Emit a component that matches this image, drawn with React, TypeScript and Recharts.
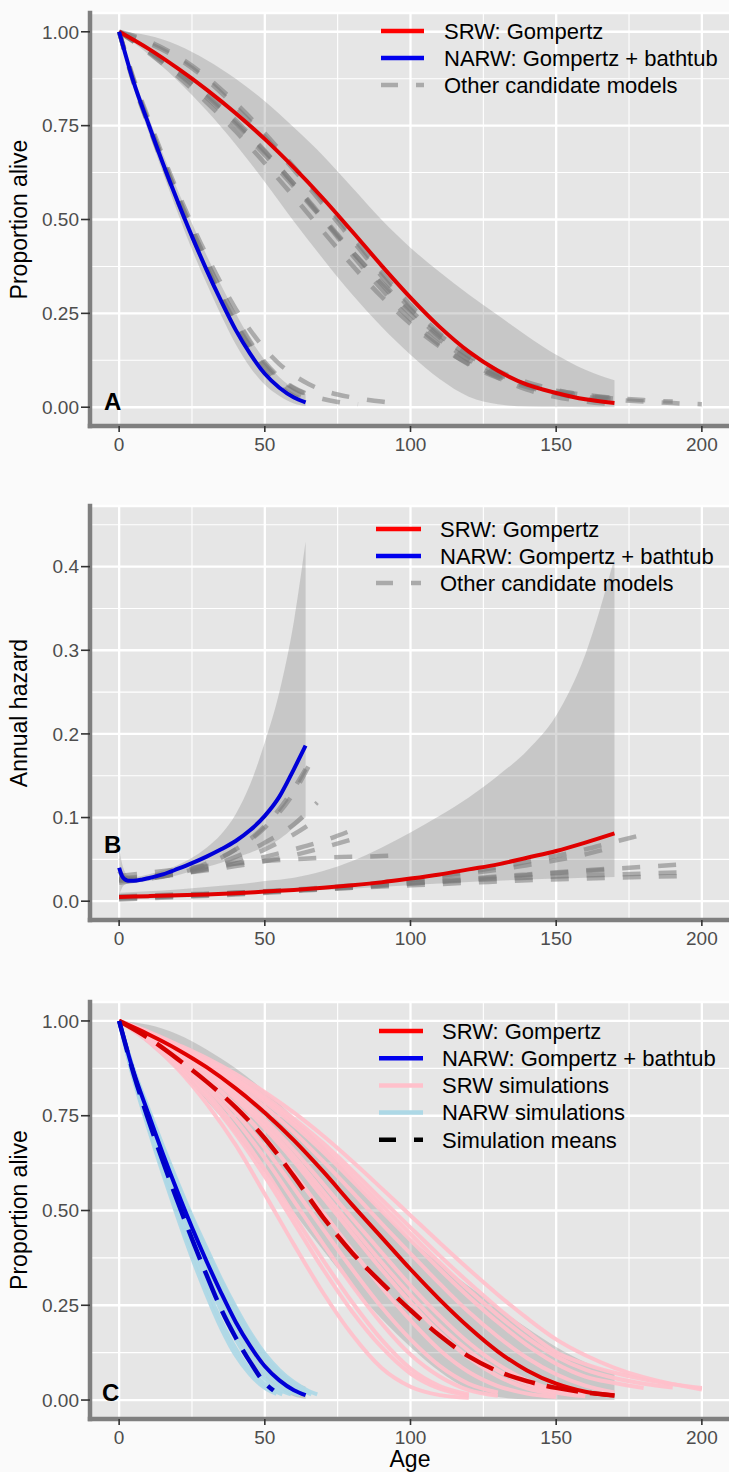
import React from 'react';
import { ComposedChart, Line, Area, XAxis, YAxis, CartesianGrid } from 'recharts';

type Pt = [number, number];

const FONT = '"Liberation Sans", Arial, Helvetica, sans-serif';

// ---------- shared axis values ----------
const X_TICKS = [0, 50, 100, 150, 200];
const X_MINOR = [25, 75, 125, 175];
const SURV_TICKS = [0, 0.25, 0.5, 0.75, 1];
const SURV_MINOR = [0.125, 0.375, 0.625, 0.875];
const HAZ_TICKS = [0, 0.1, 0.2, 0.3, 0.4];
const HAZ_MINOR = [0.05, 0.15, 0.25, 0.35, 0.45];

const AGE_10 = [0, 10, 20, 30, 40, 50, 60, 70, 80, 90, 100, 110, 120, 130, 140, 150, 160, 170, 180, 190, 200];
const AGE_NARW = [0, 5, 10, 15, 20, 25, 30, 35, 40, 45, 50, 55, 60, 64];

// ---------- Panel A: survival ----------
const SRW_FIT_A = [1.0, 0.955, 0.903, 0.846, 0.783, 0.714, 0.638, 0.556, 0.468, 0.378, 0.292, 0.214, 0.148, 0.097, 0.06, 0.038, 0.021, 0.011];
const SRW_BAND_HI = [1.0, 0.99, 0.965, 0.925, 0.875, 0.815, 0.745, 0.67, 0.585, 0.5, 0.425, 0.36, 0.3, 0.245, 0.19, 0.14, 0.1, 0.072];
const SRW_BAND_LO = [1.0, 0.94, 0.87, 0.79, 0.7, 0.6, 0.495, 0.395, 0.3, 0.215, 0.14, 0.075, 0.028, 0.008, 0.002, 0.001, 0, 0];

const NARW_FIT = [1.0, 0.865, 0.756, 0.65, 0.55, 0.455, 0.366, 0.283, 0.206, 0.142, 0.089, 0.052, 0.026, 0.013];
const NARW_BAND_HI = [1.0, 0.88, 0.775, 0.675, 0.58, 0.49, 0.405, 0.325, 0.25, 0.182, 0.125, 0.08, 0.05, 0.035];
const NARW_BAND_LO = [1.0, 0.85, 0.735, 0.625, 0.52, 0.42, 0.33, 0.245, 0.168, 0.106, 0.06, 0.03, 0.01, 0.003];

const SRW_OTHER_A1 = [1.0, 0.975, 0.935, 0.88, 0.81, 0.73, 0.64, 0.55, 0.455, 0.36, 0.272, 0.196, 0.135, 0.09, 0.058, 0.037, 0.022, 0.013];
const SRW_OTHER_A2 = [1.0, 0.95, 0.893, 0.83, 0.758, 0.68, 0.595, 0.505, 0.415, 0.328, 0.248, 0.18, 0.127, 0.088, 0.06, 0.042, 0.03, 0.022];
const SRW_OTHER_A3 = [1.0, 0.952, 0.898, 0.836, 0.764, 0.683, 0.594, 0.5, 0.405, 0.315, 0.234, 0.166, 0.114, 0.078, 0.054, 0.038, 0.027, 0.02, 0.015, 0.011, 0.008];
const SRW_OTHER_A4 = [1.0, 0.945, 0.882, 0.812, 0.735, 0.65, 0.56, 0.468, 0.378, 0.295, 0.222, 0.162, 0.116, 0.083, 0.06, 0.044, 0.033, 0.025, 0.019, 0.015];
const SRW_OTHER_A5 = [1.0, 0.97, 0.93, 0.873, 0.8, 0.72, 0.632, 0.54, 0.445, 0.35, 0.262, 0.186, 0.124, 0.079, 0.047, 0.027, 0.015, 0.008];
const SRW_OTHER_A6 = [1.0, 0.948, 0.89, 0.825, 0.752, 0.672, 0.587, 0.5, 0.414, 0.333, 0.258, 0.192, 0.138, 0.097, 0.067, 0.046, 0.032, 0.023];

const NARW_OTHER_A1: Pt[] = [[0, 1], [5, 0.875], [10, 0.77], [15, 0.67], [20, 0.575], [25, 0.487], [30, 0.405], [35, 0.33], [40, 0.262], [45, 0.205], [50, 0.155], [55, 0.115], [60, 0.085], [65, 0.062], [70, 0.045], [75, 0.034], [80, 0.026], [85, 0.02], [90, 0.015], [95, 0.011]];
const NARW_OTHER_A2: Pt[] = [[0, 1], [5, 0.868], [10, 0.76], [15, 0.66], [20, 0.565], [25, 0.475], [30, 0.39], [35, 0.312], [40, 0.24], [45, 0.175], [50, 0.12], [55, 0.08], [60, 0.052], [65, 0.034], [70, 0.022], [75, 0.014], [80, 0.009], [82, 0.008]];
const NARW_OTHER_A3: Pt[] = [[0, 1], [5, 0.862], [10, 0.752], [15, 0.648], [20, 0.55], [25, 0.458], [30, 0.372], [35, 0.292], [40, 0.22], [45, 0.158], [50, 0.107], [55, 0.068], [60, 0.04], [65, 0.022], [68, 0.015]];
const NARW_OTHER_A4: Pt[] = [[0, 1], [5, 0.865], [10, 0.755], [15, 0.652], [20, 0.553], [25, 0.46], [30, 0.37], [35, 0.286], [40, 0.21], [45, 0.146], [50, 0.094], [55, 0.056], [60, 0.03], [64, 0.017]];
const NARW_OTHER_A5: Pt[] = [[0, 1], [5, 0.87], [10, 0.762], [15, 0.658], [20, 0.56], [25, 0.466], [30, 0.378], [35, 0.297], [40, 0.225], [45, 0.163], [50, 0.113], [55, 0.076], [60, 0.05], [65, 0.033], [68, 0.026]];

// ---------- Panel B: hazard ----------
const AGE_NARW_HAZ = [0, 1, 2, 3, 5, 8, 10, 15, 20, 25, 30, 35, 40, 45, 50, 55, 60, 64];
const NARW_HAZ = [0.04, 0.03, 0.026, 0.0245, 0.0245, 0.026, 0.0275, 0.032, 0.0385, 0.0455, 0.0533, 0.062, 0.072, 0.085, 0.102, 0.125, 0.158, 0.186];
const AGE_NARW_HAZ_BAND = [0, 1, 2, 3, 5, 10, 15, 20, 25, 30, 35, 40, 45, 50, 55, 60, 64];
const NARW_HAZ_HI = [0.065, 0.045, 0.035, 0.031, 0.029, 0.032, 0.037, 0.043, 0.052, 0.064, 0.08, 0.104, 0.14, 0.19, 0.25, 0.335, 0.43];
const NARW_HAZ_LO = [0.006, 0.016, 0.02, 0.021, 0.022, 0.024, 0.027, 0.031, 0.036, 0.041, 0.046, 0.052, 0.058, 0.065, 0.074, 0.088, 0.1];

const SRW_HAZ = [0.005, 0.006, 0.007, 0.008, 0.0095, 0.0115, 0.0135, 0.016, 0.019, 0.0225, 0.027, 0.032, 0.038, 0.044, 0.052, 0.06, 0.07, 0.081];
const SRW_HAZ_HI = [0.01, 0.012, 0.014, 0.017, 0.02, 0.024, 0.028, 0.036, 0.048, 0.064, 0.082, 0.102, 0.124, 0.15, 0.18, 0.222, 0.295, 0.41];
const SRW_HAZ_LO = [0.002, 0.003, 0.0045, 0.006, 0.008, 0.01, 0.012, 0.0135, 0.015, 0.017, 0.019, 0.021, 0.023, 0.0245, 0.026, 0.027, 0.028, 0.029];

const NARW_OTHER_B1: Pt[] = [[0, 0.022], [10, 0.027], [20, 0.034], [30, 0.045], [40, 0.062], [50, 0.088], [60, 0.13], [66, 0.168]];
const NARW_OTHER_B2: Pt[] = [[0, 0.024], [10, 0.028], [20, 0.033], [30, 0.041], [40, 0.053], [50, 0.07], [60, 0.092], [68, 0.118]];
const NARW_OTHER_B3: Pt[] = [[0, 0.025], [10, 0.028], [20, 0.032], [30, 0.039], [40, 0.049], [50, 0.062], [60, 0.08], [68, 0.098]];
const NARW_OTHER_B4: Pt[] = [[0, 0.026], [10, 0.029], [20, 0.033], [30, 0.038], [40, 0.045], [50, 0.053], [60, 0.062], [70, 0.072], [80, 0.085]];
const NARW_OTHER_B5: Pt[] = [[0, 0.027], [10, 0.03], [20, 0.033], [30, 0.037], [40, 0.042], [50, 0.048], [60, 0.055], [70, 0.064], [80, 0.074]];
const NARW_OTHER_B6: Pt[] = [[0, 0.03], [10, 0.034], [20, 0.038], [30, 0.042], [40, 0.045], [50, 0.048], [60, 0.05], [70, 0.052], [80, 0.053], [90, 0.054], [95, 0.055]];
const NARW_OTHER_B7: Pt[] = [[0, 0.036], [2, 0.028], [5, 0.026], [10, 0.027], [20, 0.033], [30, 0.044], [40, 0.062], [50, 0.09], [60, 0.135], [64, 0.158]];

const SRW_OTHER_B1: Pt[] = [[0, 0.004], [20, 0.006], [40, 0.009], [60, 0.013], [80, 0.018], [100, 0.025], [120, 0.033], [140, 0.043], [160, 0.056], [170, 0.065]];
const SRW_OTHER_B2: Pt[] = [[0, 0.005], [20, 0.007], [40, 0.01], [60, 0.014], [80, 0.019], [100, 0.026], [120, 0.035], [140, 0.047], [160, 0.062], [170, 0.071], [178, 0.078]];
const SRW_OTHER_B3: Pt[] = [[0, 0.003], [20, 0.006], [40, 0.009], [60, 0.013], [80, 0.017], [100, 0.022], [120, 0.027], [140, 0.032], [160, 0.037], [180, 0.041], [197, 0.045]];
const SRW_OTHER_B4: Pt[] = [[0, 0.004], [20, 0.007], [40, 0.01], [60, 0.013], [80, 0.017], [100, 0.021], [120, 0.025], [140, 0.028], [160, 0.031], [180, 0.033], [197, 0.035]];
const SRW_OTHER_B5: Pt[] = [[0, 0.006], [20, 0.008], [40, 0.01], [60, 0.013], [80, 0.016], [100, 0.019], [120, 0.022], [140, 0.025], [160, 0.027], [180, 0.029], [197, 0.03]];
const SRW_OTHER_B6: Pt[] = [[0, 0.002], [20, 0.005], [40, 0.008], [60, 0.012], [80, 0.016], [100, 0.021], [120, 0.026], [140, 0.031], [160, 0.036], [170, 0.038]];

// ---------- Panel C: simulations ----------
const SRW_FIT_C = [1.0, 0.965, 0.925, 0.878, 0.822, 0.758, 0.685, 0.603, 0.515, 0.43, 0.345, 0.265, 0.192, 0.128, 0.078, 0.043, 0.022, 0.012];
const SRW_MEAN_C = [1.0, 0.955, 0.9, 0.84, 0.772, 0.69, 0.59, 0.482, 0.388, 0.31, 0.237, 0.17, 0.115, 0.076, 0.05, 0.032, 0.02, 0.012];
const AGE_NARW_MEAN = [0, 5, 10, 15, 20, 25, 30, 35, 40, 45, 50, 53];
const NARW_MEAN_C = [1.0, 0.86, 0.74, 0.63, 0.525, 0.425, 0.33, 0.24, 0.165, 0.1, 0.045, 0.025];

const SRW_SIM_0 = [1, 0.946, 0.874, 0.782, 0.673, 0.543, 0.41, 0.283, 0.172, 0.085, 0.035, 0.013, 0.006];
const SRW_SIM_1 = [1, 0.948, 0.882, 0.8, 0.702, 0.59, 0.468, 0.345, 0.233, 0.14, 0.07, 0.03, 0.012];
const SRW_SIM_2 = [1, 0.95, 0.888, 0.811, 0.717, 0.608, 0.487, 0.369, 0.258, 0.16, 0.083, 0.037, 0.015];
const SRW_SIM_3 = [1, 0.952, 0.895, 0.825, 0.739, 0.638, 0.525, 0.412, 0.302, 0.203, 0.12, 0.062, 0.026, 0.011];
const SRW_SIM_4 = [1, 0.955, 0.902, 0.836, 0.758, 0.665, 0.559, 0.451, 0.345, 0.246, 0.16, 0.09, 0.043, 0.02];
const SRW_SIM_5 = [1, 0.958, 0.909, 0.848, 0.777, 0.694, 0.598, 0.495, 0.395, 0.298, 0.21, 0.132, 0.074, 0.037, 0.017, 0.008];
const SRW_SIM_6 = [1, 0.961, 0.915, 0.86, 0.794, 0.717, 0.63, 0.534, 0.439, 0.345, 0.257, 0.178, 0.111, 0.063, 0.031, 0.015];
const SRW_SIM_7 = [1, 0.962, 0.917, 0.864, 0.8, 0.727, 0.643, 0.55, 0.456, 0.364, 0.277, 0.197, 0.13, 0.078, 0.042, 0.02, 0.01];
const SRW_SIM_8 = [1, 0.963, 0.92, 0.869, 0.809, 0.739, 0.659, 0.57, 0.479, 0.39, 0.302, 0.222, 0.151, 0.094, 0.052, 0.026, 0.013];
const SRW_SIM_9 = [1, 0.967, 0.929, 0.885, 0.833, 0.773, 0.706, 0.63, 0.549, 0.466, 0.386, 0.307, 0.232, 0.167, 0.111, 0.068, 0.038, 0.02];
const SRW_SIM_10 = [1, 0.968, 0.932, 0.89, 0.842, 0.787, 0.725, 0.655, 0.579, 0.5, 0.422, 0.345, 0.272, 0.205, 0.145, 0.096, 0.062, 0.045, 0.032];
const SRW_SIM_11 = [1, 0.969, 0.933, 0.893, 0.846, 0.793, 0.733, 0.666, 0.592, 0.515, 0.438, 0.362, 0.29, 0.224, 0.164, 0.115, 0.08, 0.058, 0.043, 0.033];
const SRW_SIM_12 = [1, 0.97, 0.935, 0.896, 0.851, 0.8, 0.742, 0.678, 0.606, 0.53, 0.455, 0.381, 0.31, 0.243, 0.181, 0.126, 0.095, 0.072, 0.055, 0.042, 0.032];
const SRW_SIM_13 = [1, 0.972, 0.938, 0.902, 0.86, 0.812, 0.758, 0.697, 0.63, 0.559, 0.487, 0.415, 0.345, 0.278, 0.216, 0.16, 0.118, 0.085, 0.06, 0.042, 0.028];

const NARW_SIM_1: Pt[] = [[0, 1], [5, 0.846], [10, 0.718], [15, 0.598], [20, 0.484], [25, 0.376], [30, 0.278], [35, 0.19], [40, 0.118], [45, 0.067], [50, 0.032], [54, 0.016]];
const NARW_SIM_2: Pt[] = [[0, 1], [5, 0.85], [10, 0.726], [15, 0.61], [20, 0.498], [25, 0.395], [30, 0.297], [35, 0.209], [40, 0.136], [45, 0.08], [50, 0.042], [55, 0.018], [56, 0.015]];
const NARW_SIM_3: Pt[] = [[0, 1], [5, 0.856], [10, 0.737], [15, 0.624], [20, 0.518], [25, 0.416], [30, 0.321], [35, 0.237], [40, 0.161], [45, 0.1], [50, 0.057], [55, 0.027], [59, 0.015]];
const NARW_SIM_4: Pt[] = [[0, 1], [5, 0.86], [10, 0.748], [15, 0.638], [20, 0.535], [25, 0.436], [30, 0.344], [35, 0.258], [40, 0.184], [45, 0.12], [50, 0.073], [55, 0.039], [60, 0.018], [62, 0.013]];
const NARW_SIM_5: Pt[] = [[0, 1], [5, 0.869], [10, 0.764], [15, 0.663], [20, 0.565], [25, 0.474], [30, 0.386], [35, 0.306], [40, 0.229], [45, 0.163], [50, 0.108], [55, 0.067], [60, 0.037], [65, 0.018], [66, 0.015]];
const NARW_SIM_6: Pt[] = [[0, 1], [5, 0.872], [10, 0.77], [15, 0.671], [20, 0.576], [25, 0.485], [30, 0.401], [35, 0.319], [40, 0.245], [45, 0.178], [50, 0.122], [55, 0.079], [60, 0.047], [65, 0.024], [68, 0.015]];

// ---------- legends ----------
const LEGEND_AB = [
  { label: 'SRW: Gompertz', color: '#ff0000', dash: false },
  { label: 'NARW: Gompertz + bathtub', color: '#0000ee', dash: false },
  { label: 'Other candidate models', color: '#aaaaaa', dash: true },
];
const LEGEND_C = [
  { label: 'SRW: Gompertz', color: '#ff0000', dash: false },
  { label: 'NARW: Gompertz + bathtub', color: '#0000ee', dash: false },
  { label: 'SRW simulations', color: '#ffc0cb', dash: false },
  { label: 'NARW simulations', color: '#add8e6', dash: false },
  { label: 'Simulation means', color: '#000000', dash: true },
];

// ---------- helpers ----------
const rowsOf = (ages: number[], vals: number[]) => vals.map((y, i) => ({ x: ages[i], y }));
const rowsPairs = (pts: Pt[]) => pts.map(([x, y]) => ({ x, y }));
const bandOf = (ages: number[], lo: number[], hi: number[]) => lo.map((l, i) => ({ x: ages[i], r: [l, hi[i]] }));

const RED = '#e00000';
const BLUE = '#0000d8';
const OTHER = { stroke: '#7a7a7a', strokeOpacity: 0.55, strokeWidth: 4.5, strokeDasharray: '18 18' };

let keyN = 0;
const line = (data: { x: number; y: number }[], props: any) => (
  <Line
    key={'l' + keyN++}
    data={data}
    dataKey="y"
    type="monotone"
    dot={false}
    activeDot={false}
    isAnimationActive={false}
    legendType="none"
    {...props}
  />
);
const band = (data: any[]) => (
  <Area
    key={'a' + keyN++}
    data={data}
    dataKey="r"
    type="monotone"
    stroke="none"
    fill="#808080"
    fillOpacity={0.3}
    dot={false}
    activeDot={false}
    isAnimationActive={false}
    legendType="none"
  />
);

const axes = (yDomain: number[], yTicks: number[], yMinor: number[], fmt: (v: number) => string, xAxisHeight: number) => [
  <XAxis key="xm" xAxisId="minor" type="number" dataKey="x" domain={[-10, 210]} ticks={X_MINOR} hide allowDataOverflow />,
  <YAxis key="ym" yAxisId="minor" type="number" domain={yDomain} ticks={yMinor} hide allowDataOverflow />,
  <CartesianGrid key="gm" xAxisId="minor" yAxisId="minor" stroke="#ffffff" strokeWidth={1.1} fill="#e6e6e6" fillOpacity={1} />,
  <CartesianGrid key="gM" stroke="#ffffff" strokeWidth={2.3} />,
  <XAxis
    key="x"
    type="number"
    dataKey="x"
    domain={[-10, 210]}
    ticks={X_TICKS}
    interval={0}
    allowDataOverflow
    height={xAxisHeight}
    axisLine={{ stroke: '#7f7f7f', strokeWidth: 4.5, strokeLinecap: 'square' }}
    tickLine={{ stroke: '#333333', strokeWidth: 1.6 }}
    tickSize={6}
    tickMargin={6}
    tick={{ fill: '#4d4d4d', fontSize: 19, fontFamily: FONT }}
  />,
  <YAxis
    key="y"
    type="number"
    domain={yDomain}
    ticks={yTicks}
    interval={0}
    allowDataOverflow
    width={90}
    tickFormatter={fmt}
    axisLine={{ stroke: '#7f7f7f', strokeWidth: 4.5, strokeLinecap: 'square' }}
    tickLine={{ stroke: '#333333', strokeWidth: 1.6 }}
    tickSize={9}
    tickMargin={2}
    tick={{ fill: '#4d4d4d', fontSize: 19, fontFamily: FONT }}
  />,
];

const fmt2 = (v: number) => v.toFixed(2);
const fmt1 = (v: number) => v.toFixed(1);

function PanelA() {
  return (
    <ComposedChart width={731} height={470} margin={{ top: 13, right: 0, bottom: 0, left: 0 }}>
      {axes([-0.05, 1.05], SURV_TICKS, SURV_MINOR, fmt2, 44)}
      {band(bandOf(AGE_10, SRW_BAND_LO, SRW_BAND_HI))}
      {band(bandOf(AGE_NARW, NARW_BAND_LO, NARW_BAND_HI))}
      {[SRW_OTHER_A1, SRW_OTHER_A2, SRW_OTHER_A3, SRW_OTHER_A4, SRW_OTHER_A5, SRW_OTHER_A6].map((v) => line(rowsOf(AGE_10, v), OTHER))}
      {[NARW_OTHER_A1, NARW_OTHER_A2, NARW_OTHER_A3, NARW_OTHER_A4, NARW_OTHER_A5].map((p) => line(rowsPairs(p), OTHER))}
      {line(rowsOf(AGE_10, SRW_FIT_A), { stroke: RED, strokeWidth: 4 })}
      {line(rowsOf(AGE_NARW, NARW_FIT), { stroke: BLUE, strokeWidth: 4 })}
    </ComposedChart>
  );
}

function PanelB() {
  return (
    <ComposedChart width={731} height={470} margin={{ top: 16, right: 0, bottom: 0, left: 0 }}>
      {axes([-0.0225, 0.4725], HAZ_TICKS, HAZ_MINOR, fmt1, 40)}
      {band(bandOf(AGE_10, SRW_HAZ_LO, SRW_HAZ_HI))}
      {band(bandOf(AGE_NARW_HAZ_BAND, NARW_HAZ_LO, NARW_HAZ_HI))}
      {[SRW_OTHER_B1, SRW_OTHER_B2, SRW_OTHER_B3, SRW_OTHER_B4, SRW_OTHER_B5, SRW_OTHER_B6].map((p) => line(rowsPairs(p), OTHER))}
      {[NARW_OTHER_B1, NARW_OTHER_B2, NARW_OTHER_B3, NARW_OTHER_B4, NARW_OTHER_B5, NARW_OTHER_B6, NARW_OTHER_B7].map((p) => line(rowsPairs(p), OTHER))}
      {line(rowsOf(AGE_10, SRW_HAZ), { stroke: RED, strokeWidth: 4 })}
      {line(rowsOf(AGE_NARW_HAZ, NARW_HAZ), { stroke: BLUE, strokeWidth: 4 })}
    </ComposedChart>
  );
}

function PanelC() {
  const pinks = [SRW_SIM_0, SRW_SIM_1, SRW_SIM_2, SRW_SIM_3, SRW_SIM_4, SRW_SIM_5, SRW_SIM_6, SRW_SIM_7, SRW_SIM_8, SRW_SIM_9, SRW_SIM_10, SRW_SIM_11, SRW_SIM_12, SRW_SIM_13];
  const blues = [NARW_SIM_1, NARW_SIM_2, NARW_SIM_3, NARW_SIM_4, NARW_SIM_5, NARW_SIM_6];
  return (
    <ComposedChart width={731} height={487} margin={{ top: 17, right: 0, bottom: 0, left: 0 }}>
      {axes([-0.05, 1.05], SURV_TICKS, SURV_MINOR, fmt2, 53)}
      {pinks.map((v) => line(rowsOf(AGE_10, v), { stroke: '#ffc0cb', strokeOpacity: 0.92, strokeWidth: 4 }))}
      {blues.map((p) => line(rowsPairs(p), { stroke: '#add8e6', strokeOpacity: 0.92, strokeWidth: 4 }))}
      {band(bandOf(AGE_10, SRW_BAND_LO, SRW_BAND_HI))}
      {band(bandOf(AGE_NARW, NARW_BAND_LO, NARW_BAND_HI))}
      {line(rowsOf(AGE_10, SRW_FIT_C), { stroke: RED, strokeWidth: 4 })}
      {line(rowsOf(AGE_NARW, NARW_FIT), { stroke: BLUE, strokeWidth: 4 })}
      {line(rowsOf(AGE_10, SRW_MEAN_C), { stroke: '#d40000', strokeWidth: 4.5, strokeDasharray: '32 12' })}
      {line(rowsOf(AGE_NARW_MEAN, NARW_MEAN_C), { stroke: '#0000c8', strokeWidth: 4.5, strokeDasharray: '32 12' })}
    </ComposedChart>
  );
}

function LegendRows({ items, x1, x2, tx, y0, dy }: { items: typeof LEGEND_C; x1: number; x2: number; tx: number; y0: number; dy: number }) {
  return (
    <g>
      {items.map((it, i) => {
        const y = y0 + i * dy;
        return (
          <g key={it.label}>
            <line x1={x1} x2={x2} y1={y} y2={y} stroke={it.color} strokeWidth={4.5} strokeDasharray={it.dash ? '17 18' : undefined} />
            <text x={tx} y={y + 7.8} fontSize={22} fontFamily={FONT} fill="#000">
              {it.label}
            </text>
          </g>
        );
      })}
    </g>
  );
}

export default function App() {
  return (
    <div style={{ position: 'absolute', left: 0, top: 0, width: 729, height: 1472, overflow: 'hidden', background: '#fafafa' }}>
      <div style={{ position: 'absolute', left: 0, top: 0 }}>
        <PanelA />
      </div>
      <div style={{ position: 'absolute', left: 0, top: 490 }}>
        <PanelB />
      </div>
      <div style={{ position: 'absolute', left: 0, top: 985 }}>
        <PanelC />
      </div>
      <svg width={729} height={1472} style={{ position: 'absolute', left: 0, top: 0, pointerEvents: 'none' }}>
        <g fontFamily={FONT} fill="#000">
          <text transform="translate(27,219.5) rotate(-90)" textAnchor="middle" fontSize={23}>Proportion alive</text>
          <text transform="translate(27,713) rotate(-90)" textAnchor="middle" fontSize={23}>Annual hazard</text>
          <text transform="translate(27,1210) rotate(-90)" textAnchor="middle" fontSize={23}>Proportion alive</text>
          <text x={410} y={1467} textAnchor="middle" fontSize={23}>Age</text>
          <text x={104} y={410} fontSize={24} fontWeight="bold">A</text>
          <text x={104} y={853} fontSize={24} fontWeight="bold">B</text>
          <text x={102} y={1401} fontSize={24} fontWeight="bold">C</text>
        </g>
        <LegendRows items={LEGEND_AB} x1={381} x2={424} tx={444} y0={31} dy={27} />
        <LegendRows items={LEGEND_AB} x1={376} x2={421} tx={440} y0={529} dy={27} />
        <LegendRows items={LEGEND_C} x1={379} x2={423} tx={442} y0={1031} dy={27.2} />
      </svg>
    </div>
  );
}
